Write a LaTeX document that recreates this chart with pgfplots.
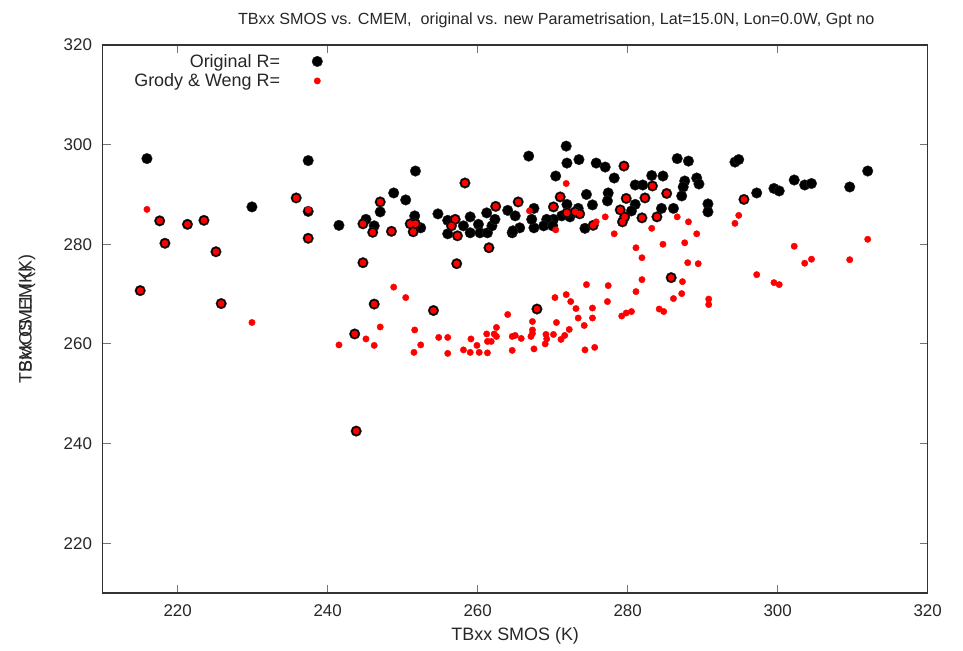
\documentclass[border=0pt]{standalone}
\usepackage{fontspec}
\setmainfont{Liberation Sans}
\usepackage{pgfplots}
\pgfplotsset{compat=1.18}

% Original parametrisation: (TBxx SMOS, TBxx CMEM)
\pgfplotstableread{
x y
215.9 297.2
217.6 284.7
218.3 280.2
221.3 284.0
223.5 284.8
225.1 278.5
215.0 270.7
225.8 268.1
229.9 287.5
235.8 289.3
237.4 296.8
237.4 286.6
237.4 281.2
251.7 294.7
248.8 290.3
250.4 288.9
247.0 286.5
241.5 283.8
245.1 285.0
246.2 283.7
251.6 285.7
252.4 283.3
254.7 286.1
256.0 284.8
256.0 282.1
258.1 283.7
259.0 285.5
259.0 282.3
260.1 284.0
260.3 282.3
261.2 286.3
261.3 282.3
261.9 283.7
262.3 285.0
264.0 286.8
264.6 282.3
258.3 292.3
262.4 287.6
247.0 288.5
244.7 284.1
246.0 282.4
248.5 282.6
251.4 282.5
251.0 284.1
251.7 284.1
257.0 285.0
256.5 283.7
257.3 281.7
261.5 279.3
244.7 276.3
257.2 276.1
246.2 268.0
254.1 266.7
243.6 262.0
243.8 242.5
271.8 299.7
266.8 297.7
271.9 296.3
273.5 297.0
275.8 296.3
277.0 295.5
270.4 293.7
278.2 293.3
286.6 297.2
288.1 296.7
283.2 293.8
284.7 293.7
281.0 291.9
282.0 291.9
289.2 293.3
289.5 292.1
287.6 292.7
287.4 291.5
287.2 289.7
274.5 290.0
277.4 290.3
277.3 288.7
275.3 287.9
273.4 287.2
271.9 288.0
272.3 285.5
271.2 285.7
270.1 285.0
269.2 285.0
268.8 283.7
270.0 283.7
267.5 287.2
267.5 283.3
267.2 285.0
265.6 283.3
264.7 282.7
265.0 285.7
274.3 283.2
281.0 288.0
280.5 286.7
284.5 287.2
286.1 287.2
290.7 288.1
290.7 286.5
279.5 295.7
283.3 291.7
285.2 290.2
282.3 289.3
279.8 289.2
271.0 289.5
265.4 288.5
270.1 287.5
271.9 286.3
273.0 286.5
273.6 286.1
279.0 286.9
279.6 285.5
279.3 284.5
281.9 285.3
283.9 285.5
275.4 283.8
285.8 273.3
267.9 267.0
294.3 296.5
294.8 297.0
297.2 290.3
299.5 291.2
300.2 290.7
302.2 292.9
303.6 291.9
304.5 292.2
309.6 291.5
312.0 294.7
295.5 289.0
}\orig

% Grody & Weng parametrisation
\pgfplotstableread{
x y
215.9 287.0
217.6 284.7
218.3 280.2
221.3 284.0
223.5 284.8
225.1 278.5
215.0 270.7
225.8 268.1
229.9 264.3
235.8 289.3
237.4 286.9
237.4 281.2
258.3 292.3
262.4 287.6
247.0 288.5
244.7 284.1
246.0 282.4
248.5 282.6
251.4 282.5
251.0 284.1
251.7 284.1
257.0 285.0
256.5 283.7
257.3 281.7
261.5 279.3
244.7 276.3
257.2 276.1
246.2 268.0
254.1 266.7
243.6 262.0
243.8 242.5
248.8 271.4
250.4 269.3
264.0 265.9
247.0 263.4
251.6 262.8
245.1 261.0
241.5 259.8
246.2 259.7
252.4 259.8
254.8 261.3
256.0 261.3
251.5 258.3
256.0 258.1
259.1 261.0
259.9 259.7
258.1 258.8
259.0 258.3
260.2 258.3
261.3 258.2
261.2 262.0
261.8 260.5
262.2 262.0
262.5 263.3
262.5 261.5
261.3 260.5
264.6 261.5
264.6 258.7
279.5 295.7
283.3 291.7
285.2 290.2
282.3 289.3
279.8 289.2
271.0 289.5
265.4 288.5
270.1 287.5
271.9 286.3
273.0 286.5
273.6 286.1
279.0 286.9
279.6 285.5
279.3 284.5
281.9 285.3
283.9 285.5
275.4 283.8
285.8 273.3
267.9 267.0
271.8 292.2
266.9 286.7
270.4 282.9
275.8 284.5
277.0 285.5
278.2 282.1
286.6 285.5
288.1 284.5
283.2 283.2
284.7 280.0
287.6 280.3
289.2 282.1
281.1 279.3
281.9 277.3
288.0 276.3
289.4 276.1
281.9 272.9
287.3 272.5
281.1 270.5
287.2 270.1
286.1 269.1
290.8 269.0
290.8 267.9
284.2 267.0
284.8 266.5
280.5 266.5
279.8 266.2
279.2 265.6
274.5 271.9
277.4 271.7
277.3 268.5
270.3 269.3
271.8 269.9
272.4 268.5
273.1 267.1
275.3 267.2
273.4 265.2
275.3 265.2
274.2 263.7
270.5 264.3
267.3 264.5
267.3 262.8
267.3 262.1
267.1 261.5
265.0 261.7
265.8 261.1
269.1 261.9
270.1 261.9
269.2 261.0
272.2 262.9
271.6 261.7
271.1 260.9
269.0 260.0
267.5 259.0
274.3 258.8
275.6 259.3
295.5 289.0
294.8 285.8
294.3 284.2
297.2 273.9
299.5 272.3
300.2 271.9
302.2 279.6
303.6 276.2
304.5 277.0
309.6 276.9
312.0 281.0
}\grody

\begin{document}
\begin{tikzpicture}
\begin{axis}[
  scale only axis,
  width=825bp, height=548bp,
  xmin=210, xmax=320, ymin=210, ymax=320,
  xtick={220,240,...,320}, ytick={220,240,...,320},
  tick align=inside,
  major tick length=8bp,
  axis line style={black!80, line width=1.1bp},
  tick style={black!55, line width=0.9bp},
  /pgf/number format/assume math mode=true,
  /pgf/number format/1000 sep={},
  ticklabel style={font=\fontsize{17}{20}\selectfont, text=black!85},
  xticklabel style={anchor=center, yshift=-18bp},
  yticklabel style={anchor=east, inner sep=0pt, xshift=-10.5bp},
  title={TBxx SMOS vs. CMEM,\ \ original vs. new Parametrisation, Lat=15.0N, Lon=0.0W, Gpt no},
  title style={at={(0.5,1)}, anchor=center, yshift=19bp, xshift=41bp,
    font=\fontsize{16.2}{19}\selectfont, text=black!85},
  xlabel={TBxx SMOS (K)},
  xlabel style={at={(0.5,0)}, anchor=center, yshift=-43bp,
    font=\fontsize{18}{21}\selectfont, text=black!85},
  legend plot pos=right,
  legend cell align=right,
  legend style={draw=none, fill=none, at={(rel axis cs:0.268,0.989)},
    anchor=north east, font=\fontsize{18}{21}\selectfont, text=black!85,
    row sep=1bp, inner sep=1bp,
    /tikz/every odd column/.append style={column sep=30bp}},
]
\addplot[only marks, mark=*, mark size=5.3bp,
  mark options={fill=black, draw=black!85}] table[x=x, y=y] {\orig};
\addlegendentry{Original R=}
\addplot[only marks, mark=*, mark size=3.2bp,
  mark options={fill=red, draw=red}] table[x=x, y=y] {\grody};
\addlegendentry{Grody \& Weng R=}
\end{axis}
% two y-axis captions written over each other
\node[rotate=90, anchor=center, font=\fontsize{18}{21}\selectfont, text=black!85]
  at ([xshift=-75.7bp]current axis.west) {SMOS L1 (K)};
\node[rotate=90, anchor=center, font=\fontsize{18}{21}\selectfont, text=black!85]
  at ([xshift=-75.7bp]current axis.west) {TBxx CMEM (K)};
\pgfresetboundingbox
\path ([xshift=-102.7bp,yshift=-58bp]current axis.south west)
  rectangle ([xshift=35.3bp,yshift=45bp]current axis.north east);
\end{tikzpicture}
\end{document}
